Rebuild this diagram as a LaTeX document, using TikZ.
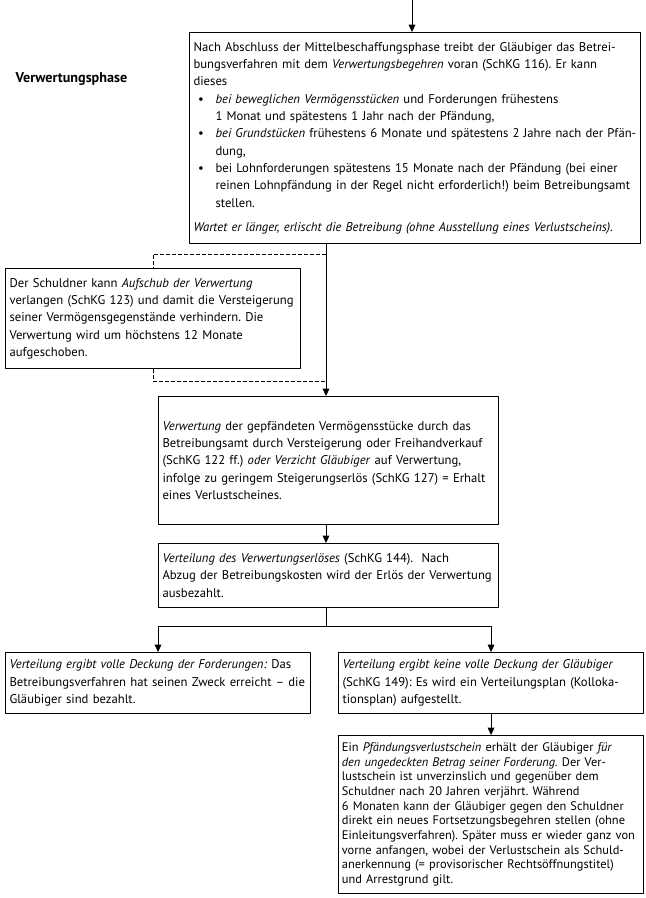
\documentclass[tikz,border=0pt]{standalone}
\usepackage{fontspec}
\setmainfont{PT Sans}
\usetikzlibrary{arrows.meta}
\tikzset{
  box/.style={draw,line width=0.8pt,anchor=north west,align=left,
    inner xsep=3pt,inner ysep=0pt,font=\fontsize{9.5}{13}\selectfont\frenchspacing},
  small/.style={font=\fontsize{9.3}{11}\selectfont\frenchspacing},
  link/.style={line width=0.6pt},
}
\newcommand{\bul}{\makebox[16.5pt][l]{\hspace{3.5pt}\textbullet}}
\newcommand{\ind}{\hspace*{16.5pt}}
\begin{document}
\begin{tikzpicture}[x=0.75pt,y=-0.75pt,line join=round,>={Triangle[length=5.5pt,width=5pt]}]
	\useasboundingbox (0,0) rectangle (645,898);
	\node[anchor=west,font=\bfseries\fontsize{10.6}{12}\selectfont] (phase) at (11,79) {Verwertungsphase};
	\node[box,text width=332.25pt,minimum height=158.25pt] (begehren) at (189,32) {%
		Nach Abschluss der Mittelbeschaffungsphase treibt der Gläubiger das Betrei-\\
		bungsverfahren mit dem \emph{Verwertungsbegehren} voran (SchKG 116). Er kann\\
		dieses\\
		\bul\emph{bei beweglichen Vermögensstücken} und Forderungen frühestens\\
		\ind 1 Monat und spätestens 1 Jahr nach der Pfändung,\\
		\bul\emph{bei Grundstücken} frühestens 6 Monate und spätestens 2 Jahre nach der Pfän-\\
		\ind dung,\\
		\bul bei Lohnforderungen spätestens 15 Monate nach der Pfändung (bei einer\\
		\ind reinen Lohnpfändung in der Regel nicht erforderlich!) beim Betreibungsamt\\
		\ind stellen.\\[5pt]
		\emph{Wartet er länger, erlischt die Betreibung (ohne Ausstellung eines Verlustscheins).}};
	\node[box,text width=215.25pt,minimum height=75pt] (aufschub) at (5,268) {%
		Der Schuldner kann \emph{Aufschub der Verwertung}\\
		verlangen (SchKG 123) und damit die Versteigerung\\
		seiner Vermögensgegenstände verhindern. Die\\
		Verwertung wird um höchstens 12 Monate\\
		aufgeschoben.};
	\node[box,text width=249pt,minimum height=96pt] (verwertung) at (158,396) {%
		\emph{Verwertung} der gepfändeten Vermögensstücke durch das\\
		Betreibungsamt durch Versteigerung oder Freihandverkauf\\
		(SchKG 122 ff.) \emph{oder Verzicht Gläubiger} auf Verwertung,\\
		infolge zu geringem Steigerungserlös (SchKG 127) = Erhalt\\
		eines Verlustscheines.};
	\node[box,text width=249pt,minimum height=48pt] (verteilung) at (158,543) {%
		\emph{Verteilung des Verwertungserlöses} (SchKG 144). \ Nach\\
		Abzug der Betreibungskosten wird der Erlös der Verwertung\\
		ausbezahlt.};
	\node[box,text width=222.75pt,minimum height=45.75pt] (deckung) at (5,652) {%
		\emph{Verteilung ergibt volle Deckung der Forderungen:} Das\\
		Betreibungsverfahren hat seinen Zweck erreicht -- die\\
		Gläubiger sind bezahlt.};
	\node[box,text width=222.75pt,minimum height=45.75pt] (keinedeckung) at (338,652) {%
		\emph{Verteilung ergibt keine volle Deckung der Gläubiger}\\
		(SchKG 149): Es wird ein Verteilungsplan (Kolloka-\\
		tionsplan) aufgestellt.};
	\node[box,small,text width=223.75pt,inner xsep=2.5pt,minimum height=118.5pt] (verlustschein) at (338,735) {%
		Ein \emph{Pfändungsverlustschein} erhält der Gläubiger \emph{für}\\
		\emph{den ungedeckten Betrag seiner Forderung.} Der Ver-\\
		lustschein ist unverzinslich und gegenüber dem\\
		Schuldner nach 20 Jahren verjährt. Während\\
		6 Monaten kann der Gläubiger gegen den Schuldner\\
		direkt ein neues Fortsetzungsbegehren stellen (ohne\\
		Einleitungsverfahren). Später muss er wieder ganz von\\
		vorne anfangen, wobei der Verlustschein als Schuld-\\
		anerkennung (= provisorischer Rechtsöffnungstitel)\\
		und Arrestgrund gilt.};
	\coordinate (start) at (412,0);
	\coordinate (abzw) at (326,254);
	\coordinate (rueck) at (326,381);
	\path (verteilung.south) ++(0,18) coordinate (split);
	\draw[link,->] (start) -- (begehren.north -| start);
	\draw[link,->] (begehren.south -| abzw) -- (verwertung.north -| abzw);
	\draw[link,dash pattern=on 3pt off 1.5pt] (abzw) -| (aufschub.north);
	\draw[link,dash pattern=on 3pt off 1.5pt] (aufschub.south) |- (rueck);
	\draw[link,->] (verwertung.south -| abzw) -- (verteilung.north -| abzw);
	\draw[link] (verteilung.south -| abzw) -- (split -| abzw);
	\draw[link,->] (split -| abzw) -| (deckung.north);
	\draw[link,->] (split -| abzw) -| (keinedeckung.north);
	\draw[link,->] (keinedeckung.south) -- (verlustschein.north);
\end{tikzpicture}
\end{document}
